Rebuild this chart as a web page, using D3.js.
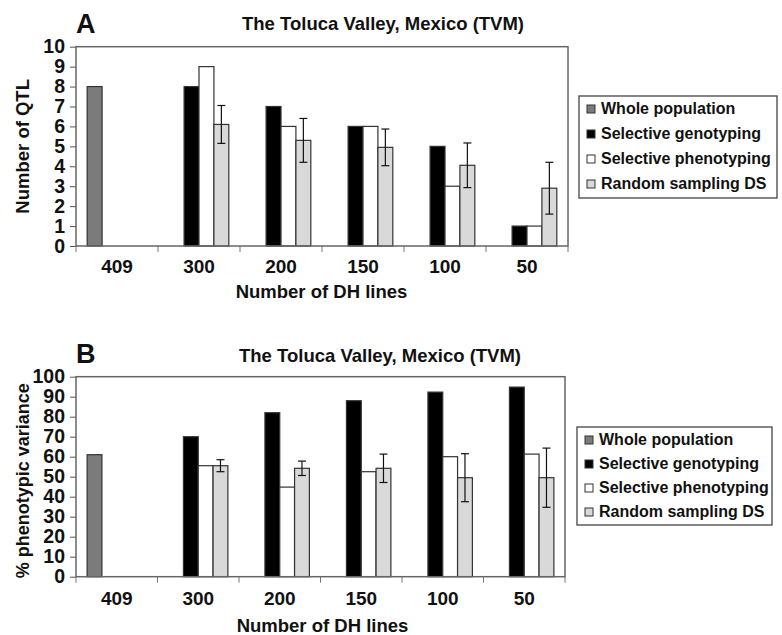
<!DOCTYPE html>
<html>
<head>
<meta charset="utf-8">
<script src="https://cdn.jsdelivr.net/npm/d3@7"></script>
<style>
  body { margin: 0; background: #fff; }
  svg { display: block; }
  text { font-family: 'Liberation Sans', Arial, sans-serif; font-weight: bold; fill: #111; }
</style>
</head>
<body>
<svg id="chart" width="782" height="635"></svg>
<script>
// categories = number of DH lines
var categories = ['409', '300', '200', '150', '100', '50'];
var seriesNames = ['Whole population', 'Selective genotyping', 'Selective phenotyping', 'Random sampling DS'];
var seriesColors = ['#7b7b7b', '#000000', '#ffffff', '#d9d9d9'];

// panel A: number of QTL
var qtlTicks = [0, 1, 2, 3, 4, 5, 6, 7, 8, 9, 10];
var qtlWhole = [8, null, null, null, null, null];
var qtlGenotyping = [null, 8, 7, 6, 5, 1];
var qtlPhenotyping = [null, 9, 6, 6, 3, 1];
var qtlRandom = [null, 6.1, 5.3, 4.95, 4.05, 2.9];
var qtlRandomErr = [null, 0.95, 1.1, 0.92, 1.12, 1.3];

// panel B: % phenotypic variance
var pvTicks = [0, 10, 20, 30, 40, 50, 60, 70, 80, 90, 100];
var pvWhole = [61, null, null, null, null, null];
var pvGenotyping = [null, 70, 82, 88, 92.3, 94.8];
var pvPhenotyping = [null, 55.5, 44.8, 52.5, 60, 61.3];
var pvRandom = [null, 55.5, 54.2, 54.2, 49.5, 49.5];
var pvRandomErr = [null, 3, 3.6, 7.1, 12, 14.8];

var svg = d3.select('#chart');

function drawPanel(opt) {
  var g = svg.append('g').attr('class', 'panel-' + opt.letter);
  var p = opt.plot;

  var x0 = d3.scaleBand().domain(categories).range([p.x, p.x + p.w]);
  // excel-like clustered bars, gap width 150%
  var x1 = d3.scaleBand().domain(seriesNames).range([0, x0.bandwidth()]).paddingOuter(0.75);
  var y = d3.scaleLinear().domain([0, opt.max]).range([p.y + p.h, p.y]);

  // panel letter + title
  g.append('text')
    .attr('x', p.x).attr('y', opt.letterY)
    .attr('font-size', 27)
    .text(opt.letter);
  g.append('text')
    .attr('x', opt.titleX).attr('y', opt.titleY)
    .attr('text-anchor', 'middle')
    .attr('font-size', 18.5)
    .text('The Toluca Valley, Mexico (TVM)');

  // y axis
  var yAxis = g.append('g')
    .attr('transform', 'translate(' + p.x + ',0)')
    .call(d3.axisLeft(y).tickValues(opt.ticks).tickSize(6).tickSizeOuter(0).tickPadding(5));
  yAxis.select('.domain').remove();
  yAxis.attr('font-family', null).attr('font-size', null);
  yAxis.selectAll('line').attr('stroke', '#555');
  yAxis.selectAll('text')
    .attr('font-size', 19.5)
    .style('fill', '#111');

  // x labels
  g.selectAll('.xlab')
    .data(categories)
    .enter().append('text')
    .attr('class', 'xlab')
    .attr('x', function (d) { return x0(d) + x0.bandwidth() / 2; })
    .attr('y', opt.xLabelY)
    .attr('text-anchor', 'middle')
    .attr('font-size', 19)
    .text(function (d) { return d; });

  // category boundary ticks under the axis
  var bounds = categories.map(function (c) { return x0(c); }).concat([p.x + p.w]);
  g.selectAll('.xtick')
    .data(bounds)
    .enter().append('line')
    .attr('class', 'xtick')
    .attr('x1', function (d) { return d; }).attr('x2', function (d) { return d; })
    .attr('y1', p.y + p.h).attr('y2', p.y + p.h + 6)
    .attr('stroke', '#777');

  // axis titles
  g.append('text')
    .attr('x', p.x + p.w / 2 + (opt.xTitleShift || 0))
    .attr('y', opt.xTitleY)
    .attr('text-anchor', 'middle')
    .attr('font-size', 18.5)
    .text('Number of DH lines');
  g.append('text')
    .attr('transform', 'translate(' + opt.yTitleX + ',' + (p.y + p.h / 2 + (opt.yTitleShift || 0)) + ') rotate(-90)')
    .attr('text-anchor', 'middle')
    .attr('font-size', opt.yTitleSize)
    .text(opt.yTitle);

  // bars
  var rows = [];
  opt.series.forEach(function (vals, si) {
    vals.forEach(function (v, ci) {
      if (v === null) return;
      rows.push({ s: seriesNames[si], si: si, c: categories[ci], v: v, err: si === 3 ? opt.err[ci] : null });
    });
  });

  g.selectAll('.bar')
    .data(rows)
    .enter().append('rect')
    .attr('class', 'bar')
    .attr('x', function (d) { return x0(d.c) + x1(d.s); })
    .attr('width', x1.bandwidth())
    .attr('y', function (d) { return y(d.v); })
    .attr('height', function (d) { return y(0) - y(d.v); })
    .attr('fill', function (d) { return seriesColors[d.si]; })
    .attr('stroke', '#333')
    .attr('stroke-width', 1.2);

  // error bars on random sampling
  var errRows = rows.filter(function (d) { return d.err !== null; });
  var eb = g.selectAll('.err')
    .data(errRows)
    .enter().append('g')
    .attr('class', 'err')
    .attr('stroke', '#111')
    .attr('stroke-width', 1.2);
  eb.append('line')
    .attr('x1', function (d) { return x0(d.c) + x1(d.s) + x1.bandwidth() / 2; })
    .attr('x2', function (d) { return x0(d.c) + x1(d.s) + x1.bandwidth() / 2; })
    .attr('y1', function (d) { return y(d.v + d.err); })
    .attr('y2', function (d) { return y(d.v - d.err); });
  [1, -1].forEach(function (sign) {
    eb.append('line')
      .attr('x1', function (d) { return x0(d.c) + x1(d.s) + x1.bandwidth() / 2 - 4; })
      .attr('x2', function (d) { return x0(d.c) + x1(d.s) + x1.bandwidth() / 2 + 4; })
      .attr('y1', function (d) { return y(d.v + sign * d.err); })
      .attr('y2', function (d) { return y(d.v + sign * d.err); });
  });

  // plot frame
  g.append('rect')
    .attr('x', p.x).attr('y', p.y)
    .attr('width', p.w).attr('height', p.h)
    .attr('fill', 'none')
    .attr('stroke', '#666')
    .attr('stroke-width', 1.5);

  // legend
  var lb = opt.legend;
  g.append('rect')
    .attr('x', lb.x).attr('y', lb.y)
    .attr('width', lb.w).attr('height', lb.h)
    .attr('fill', '#fff')
    .attr('stroke', '#444')
    .attr('stroke-width', 1.3);
  var items = g.selectAll('.leg')
    .data(seriesNames)
    .enter().append('g')
    .attr('class', 'leg')
    .attr('transform', function (d, i) { return 'translate(' + lb.x + ',' + (lb.y + 18 + i * lb.step) + ')'; });
  items.append('rect')
    .attr('x', 8).attr('y', -9)
    .attr('width', 8).attr('height', 8)
    .attr('fill', function (d, i) { return seriesColors[i]; })
    .attr('stroke', '#333');
  items.append('text')
    .attr('x', 22).attr('y', 0)
    .attr('font-size', 16)
    .text(function (d) { return d; });
}

drawPanel({
  letter: 'A',
  letterY: 33, titleX: 383, titleY: 30,
  plot: { x: 76, y: 46.7, w: 492, h: 199.3 },
  max: 10, ticks: qtlTicks,
  series: [qtlWhole, qtlGenotyping, qtlPhenotyping, qtlRandom],
  err: qtlRandomErr,
  xLabelY: 273, xTitleY: 298, xTitleShift: -0.5,
  yTitle: 'Number of QTL', yTitleX: 29, yTitleSize: 18.5,
  legend: { x: 579, y: 96, w: 198, h: 102, step: 25 }
});

drawPanel({
  letter: 'B',
  letterY: 362.5, titleX: 380, titleY: 361.5,
  plot: { x: 76, y: 376.7, w: 489, h: 200 },
  max: 100, ticks: pvTicks,
  series: [pvWhole, pvGenotyping, pvPhenotyping, pvRandom],
  err: pvRandomErr,
  xLabelY: 605, xTitleY: 631.5, xTitleShift: 2,
  yTitle: '% phenotypic variance', yTitleX: 29, yTitleSize: 18, yTitleShift: 4,
  legend: { x: 577, y: 427, w: 195, h: 98, step: 24 }
});
</script>
</body>
</html>
